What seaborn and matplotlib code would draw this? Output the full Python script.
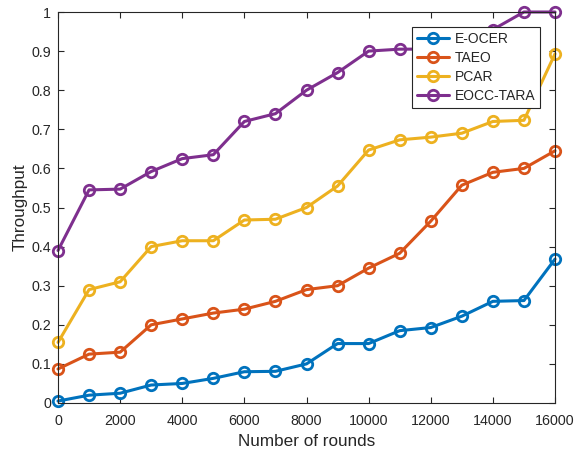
import matplotlib
matplotlib.use("Agg")
import matplotlib.pyplot as plt
import seaborn as sns
import pandas as pd
import numpy as np

rounds = [0, 1000, 2000, 3000, 4000, 5000, 6000, 7000, 8000, 9000, 10000,
          11000, 12000, 13000, 14000, 15000, 16000]
e_ocer = [0.005, 0.020, 0.025, 0.046, 0.050, 0.063, 0.080, 0.081, 0.100, 0.152, 0.152,
          0.185, 0.193, 0.222, 0.260, 0.262, 0.368]
taeo = [0.087, 0.125, 0.130, 0.200, 0.215, 0.230, 0.240, 0.260, 0.290, 0.300, 0.345,
        0.383, 0.465, 0.557, 0.590, 0.600, 0.645]
pcar = [0.155, 0.290, 0.310, 0.400, 0.415, 0.415, 0.468, 0.470, 0.500, 0.555, 0.647,
        0.673, 0.680, 0.690, 0.720, 0.723, 0.893]
eocc_tara = [0.390, 0.545, 0.547, 0.592, 0.625, 0.635, 0.720, 0.740, 0.800, 0.845, 0.900,
             0.905, 0.905, 0.920, 0.955, 1.000, 1.000]
series_names = ["E-OCER", "TAEO", "PCAR", "EOCC-TARA"]
colors = ["#0072BD", "#D95319", "#EDB120", "#7E2F8E"]

df = pd.DataFrame({
    "rounds": rounds * 4,
    "value": e_ocer + taeo + pcar + eocc_tara,
    "method": sum([[n] * len(rounds) for n in series_names], []),
})

sns.set_style("white")
plt.rcParams["font.family"] = ["Liberation Sans", "DejaVu Sans"]

fig = plt.figure(figsize=(5.76, 4.55), dpi=100)
ax = fig.add_axes([58 / 576, 52 / 455, (555 - 58) / 576, (403 - 12) / 455])

sns.lineplot(data=df, x="rounds", y="value", hue="method", palette=colors,
             hue_order=series_names, marker="o", markersize=7.5, markerfacecolor="none",
             markeredgewidth=2.0, linewidth=2.2, ax=ax, clip_on=False)
for line, c in zip(ax.get_lines(), colors):
    line.set_markeredgecolor(c)

ax.set_xlim(0, 16000)
ax.set_ylim(0, 1)
ax.set_xticks(np.arange(0, 16001, 2000))
ax.set_yticks(np.arange(0, 1.01, 0.1))
ax.set_yticklabels(["0", "0.1", "0.2", "0.3", "0.4", "0.5", "0.6", "0.7", "0.8", "0.9", "1"])
ax.set_xlabel("Number of rounds", fontsize=12.3, color="#262626", labelpad=4.5)
ax.set_ylabel("Throughput", fontsize=12.3, color="#262626", labelpad=3)
ax.tick_params(direction="in", length=4.5, width=0.8, labelsize=10.3, colors="#262626",
               top=True, right=True, bottom=True, left=True, pad=5)
ax.tick_params(axis="x", pad=8)
for s in ax.spines.values():
    s.set_visible(True)
    s.set_color("#262626")
    s.set_linewidth(0.8)

handles, labels = ax.get_legend_handles_labels()
for h, c in zip(handles, colors):
    h.set_markeredgecolor(c)
    h.set_markerfacecolor("none")
leg = ax.legend(handles, labels, loc="upper right", bbox_to_anchor=(0.970, 0.962),
                fontsize=10, frameon=True, fancybox=False, edgecolor="#262626",
                facecolor="white", framealpha=1,
                handlelength=2.3, handletextpad=0.4, borderpad=0.35, labelspacing=0.36,
                borderaxespad=0)
leg.get_frame().set_linewidth(0.8)
leg.set_zorder(10)

fig.savefig("out.png", dpi=100)
